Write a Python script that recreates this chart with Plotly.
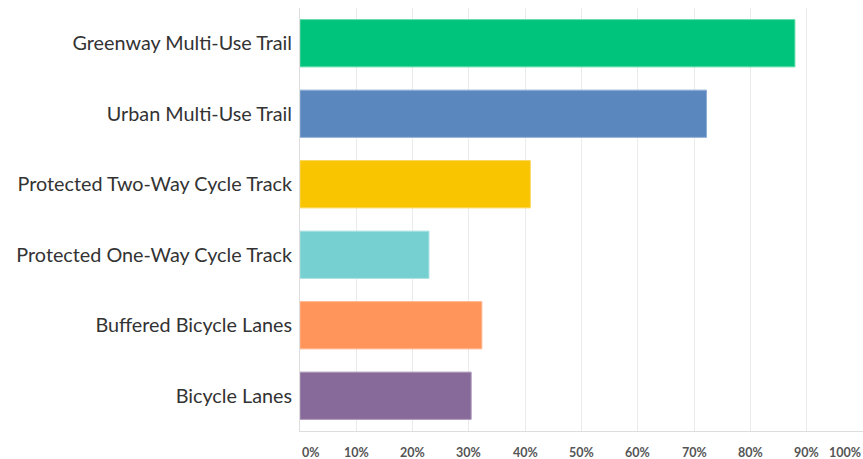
import plotly.graph_objects as go

# Facility types (top to bottom) and share of respondents (%)
categories = [
    "Greenway Multi-Use Trail",
    "Urban Multi-Use Trail",
    "Protected Two-Way Cycle Track",
    "Protected One-Way Cycle Track",
    "Buffered Bicycle Lanes",
    "Bicycle Lanes",
]
values = [87.9, 72.2, 40.9, 22.9, 32.3, 30.4]
bar_colors = ["#00C47B", "#5B87BF", "#F9C400", "#76CFD1", "#FF955A", "#876A99"]
edge_colors = ["#5CD9A6", "#8EAED6", "#FBD54F", "#A4E0E1", "#FFB48B", "#AA95B8"]

tick_values = [0, 10, 20, 30, 40, 50, 60, 70, 80, 90, 100]
tick_labels = ["0%", "10%", "20%", "30%", "40%", "50%", "60%", "70%", "80%", "90%", "100%"]

fig = go.Figure(
    go.Bar(
        x=values,
        y=categories,
        orientation="h",
        marker=dict(color=bar_colors, line=dict(color=edge_colors, width=1)),
        hoverinfo="x+y",
    )
)

# x tick labels drawn as annotations so the end labels stay inside the page
annotations = []
for v, t in zip(tick_values, tick_labels):
    anchor = "center"
    if v == tick_values[0]:
        anchor = "left"
    elif v == tick_values[-1]:
        anchor = "right"
    annotations.append(
        dict(
            x=v, y=0, xref="x", yref="paper", yanchor="top", xanchor=anchor,
            yshift=-12, text=t, showarrow=False,
            font=dict(family="Lato", size=12.5, color="#555555", weight="bold"),
        )
    )

fig.update_layout(
    width=863,
    height=459,
    margin=dict(l=300, r=0, t=8, b=28),
    paper_bgcolor="white",
    plot_bgcolor="white",
    bargap=0.33,
    showlegend=False,
    annotations=annotations,
    xaxis=dict(
        range=[0, 100],
        tickvals=tick_values,
        showticklabels=False,
        showgrid=True,
        gridcolor="#EBEBEB",
        gridwidth=1,
        zeroline=False,
        showline=True,
        linecolor="#DDDDDD",
        linewidth=1,
        fixedrange=True,
    ),
    yaxis=dict(
        categoryorder="array",
        categoryarray=categories[::-1],
        showgrid=False,
        zeroline=False,
        showline=True,
        linecolor="#DDDDDD",
        linewidth=1,
        ticks="",
        ticklabelstandoff=3,
        tickfont=dict(family="Lato", size=19.8, color="#333333"),
        fixedrange=True,
    ),
)

fig.write_html("out.html")
